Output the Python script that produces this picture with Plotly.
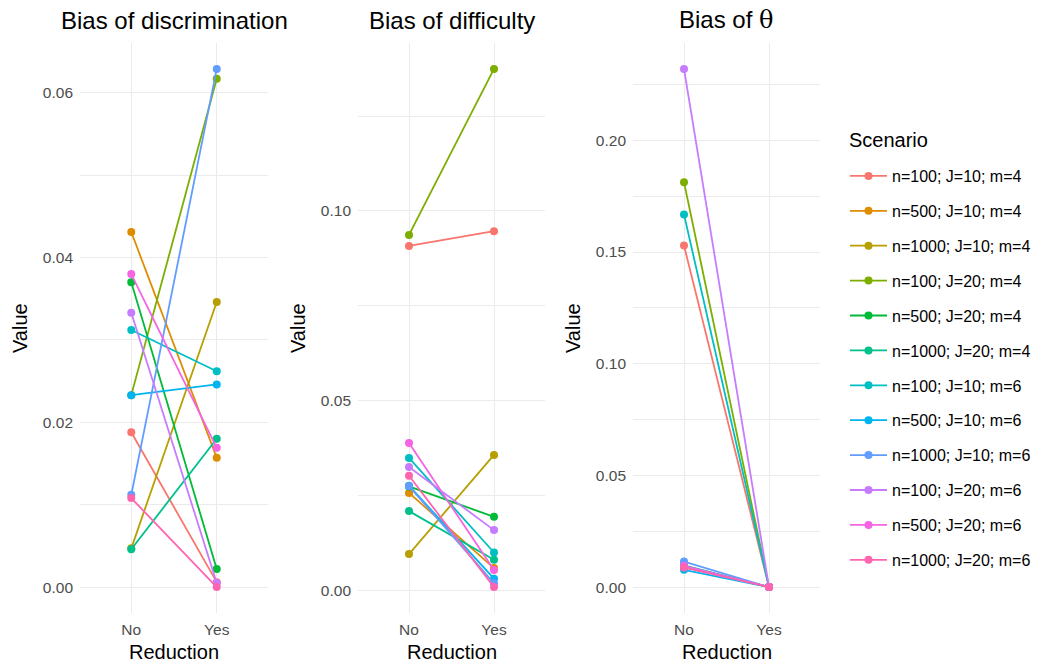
import plotly.graph_objects as go

scenarios = ["n=100; J=10; m=4", "n=500; J=10; m=4", "n=1000; J=10; m=4",
             "n=100; J=20; m=4", "n=500; J=20; m=4", "n=1000; J=20; m=4",
             "n=100; J=10; m=6", "n=500; J=10; m=6", "n=1000; J=10; m=6",
             "n=100; J=20; m=6", "n=500; J=20; m=6", "n=1000; J=20; m=6"]
colors = ["#F8766D", "#DE8C00", "#B79F00", "#7CAE00", "#00BA38", "#00C08B",
          "#00BFC4", "#00B4F0", "#619CFF", "#C77CFF", "#F564E3", "#FF64B0"]
reduction = ["No", "Yes"]

disc_no = [0.0188, 0.0431, 0.0047, 0.0233, 0.0370, 0.0046, 0.0312, 0.0233, 0.0112, 0.0333, 0.0380, 0.0108]
disc_yes = [0.0006, 0.0157, 0.0346, 0.0617, 0.0022, 0.0180, 0.0262, 0.0246, 0.0629, 0.0005, 0.0169, 0.0000]

diff_no = [0.0908, 0.0258, 0.0097, 0.0937, 0.0275, 0.0210, 0.0350, 0.0277, 0.0276, 0.0326, 0.0389, 0.0303]
diff_yes = [0.0947, 0.0060, 0.0358, 0.1374, 0.0195, 0.0082, 0.0101, 0.0032, 0.0020, 0.0160, 0.0055, 0.0010]

theta_no = [0.1529, 0.0095, 0.0092, 0.1812, 0.0097, 0.0100, 0.1668, 0.0080, 0.0117, 0.2318, 0.0098, 0.0090]
theta_yes = [0.0003, 0.0003, 0.0003, 0.0003, 0.0003, 0.0003, 0.0003, 0.0003, 0.0003, 0.0003, 0.0003, 0.0003]

panels = [
    ("Bias of discrimination", disc_no, disc_yes, [0.0, 0.02, 0.04, 0.06], 0.01),
    ("Bias of difficulty", diff_no, diff_yes, [0.0, 0.05, 0.10], 0.025),
    ("Bias of <span style='font-family:DejaVu Serif'>θ</span>", theta_no, theta_yes, [0.0, 0.05, 0.10, 0.15, 0.20], 0.025),
]

W, H = 1040, 664
xdoms = [(80, 268), (358, 545), (633, 820)]
ytop, ybot = 43, 613
FONT = "Liberation Sans, Arial, sans-serif"

fig = go.Figure()
layout = dict(width=W, height=H, margin=dict(l=0, r=0, t=0, b=0),
              paper_bgcolor="white", plot_bgcolor="white",
              font=dict(family=FONT, color="black"))
annotations = []
for p, (title, vno, vyes, ticks, minor) in enumerate(panels):
    ax = "" if p == 0 else str(p + 1)
    for i, name in enumerate(scenarios):
        fig.add_trace(go.Scatter(
            x=reduction, y=[vno[i], vyes[i]], mode="lines+markers",
            name=name, legendgroup=name, showlegend=(p == 0),
            line=dict(color=colors[i], width=1.8),
            marker=dict(color=colors[i], size=8),
            xaxis="x" + ax, yaxis="y" + ax))
    allv = vno + vyes
    lo, hi = min(allv), max(allv)
    pad = (hi - lo) * 0.05
    x0, x1 = xdoms[p]
    layout["xaxis" + ax] = dict(
        domain=[x0 / W, x1 / W], anchor="y" + ax, type="category",
        categoryorder="array", categoryarray=reduction,
        range=[-0.6, 1.6], showgrid=True, gridcolor="#EBEBEB", gridwidth=1.4,
        zeroline=False, showline=False, ticks="", ticklabelstandoff=5,
        tickfont=dict(size=15.5, color="#4D4D4D", family=FONT))
    layout["yaxis" + ax] = dict(
        domain=[1 - ybot / H, 1 - ytop / H], anchor="x" + ax,
        range=[lo - pad, hi + pad], tickvals=ticks, tickformat=".2f",
        showgrid=True, gridcolor="#EBEBEB", gridwidth=1.4,
        minor=dict(dtick=minor, tick0=0, showgrid=True, gridcolor="#EBEBEB", gridwidth=0.7),
        zeroline=False, showline=False, ticks="", ticklabelstandoff=6,
        tickfont=dict(size=15.5, color="#4D4D4D", family=FONT))
    cx = (x0 + x1) / 2 / W
    annotations.append(dict(text=title, x=cx, y=1 - 20 / H, xref="paper", yref="paper",
                            showarrow=False, font=dict(size=24, family=FONT, color="black"),
                            xanchor="center", yanchor="middle"))
    annotations.append(dict(text="Reduction", x=cx, y=1 - 652 / H, xref="paper", yref="paper",
                            showarrow=False, font=dict(size=20, family=FONT, color="black"),
                            xanchor="center", yanchor="middle"))
    annotations.append(dict(text="Value", x=(x0 - 60) / W, y=1 - 328 / H, xref="paper", yref="paper",
                            showarrow=False, textangle=-90, font=dict(size=20, family=FONT, color="black"),
                            xanchor="center", yanchor="middle"))

annotations.append(dict(text="Scenario", x=847 / W, y=1 - 140 / H, xref="paper", yref="paper",
                        showarrow=False, font=dict(size=20, family=FONT, color="black"),
                        xanchor="left", yanchor="middle"))
layout["annotations"] = annotations
layout["legend"] = dict(
    x=845 / W, y=1 - 159 / H, xanchor="left", yanchor="top",
    font=dict(size=16, family=FONT, color="black"),
    tracegroupgap=11.1, itemwidth=37, bgcolor="rgba(0,0,0,0)")
fig.update_layout(**layout)
fig.write_html("out.html", config={"displayModeBar": False},
               post_script="document.body.style.margin='0';document.body.style.padding='0';")
